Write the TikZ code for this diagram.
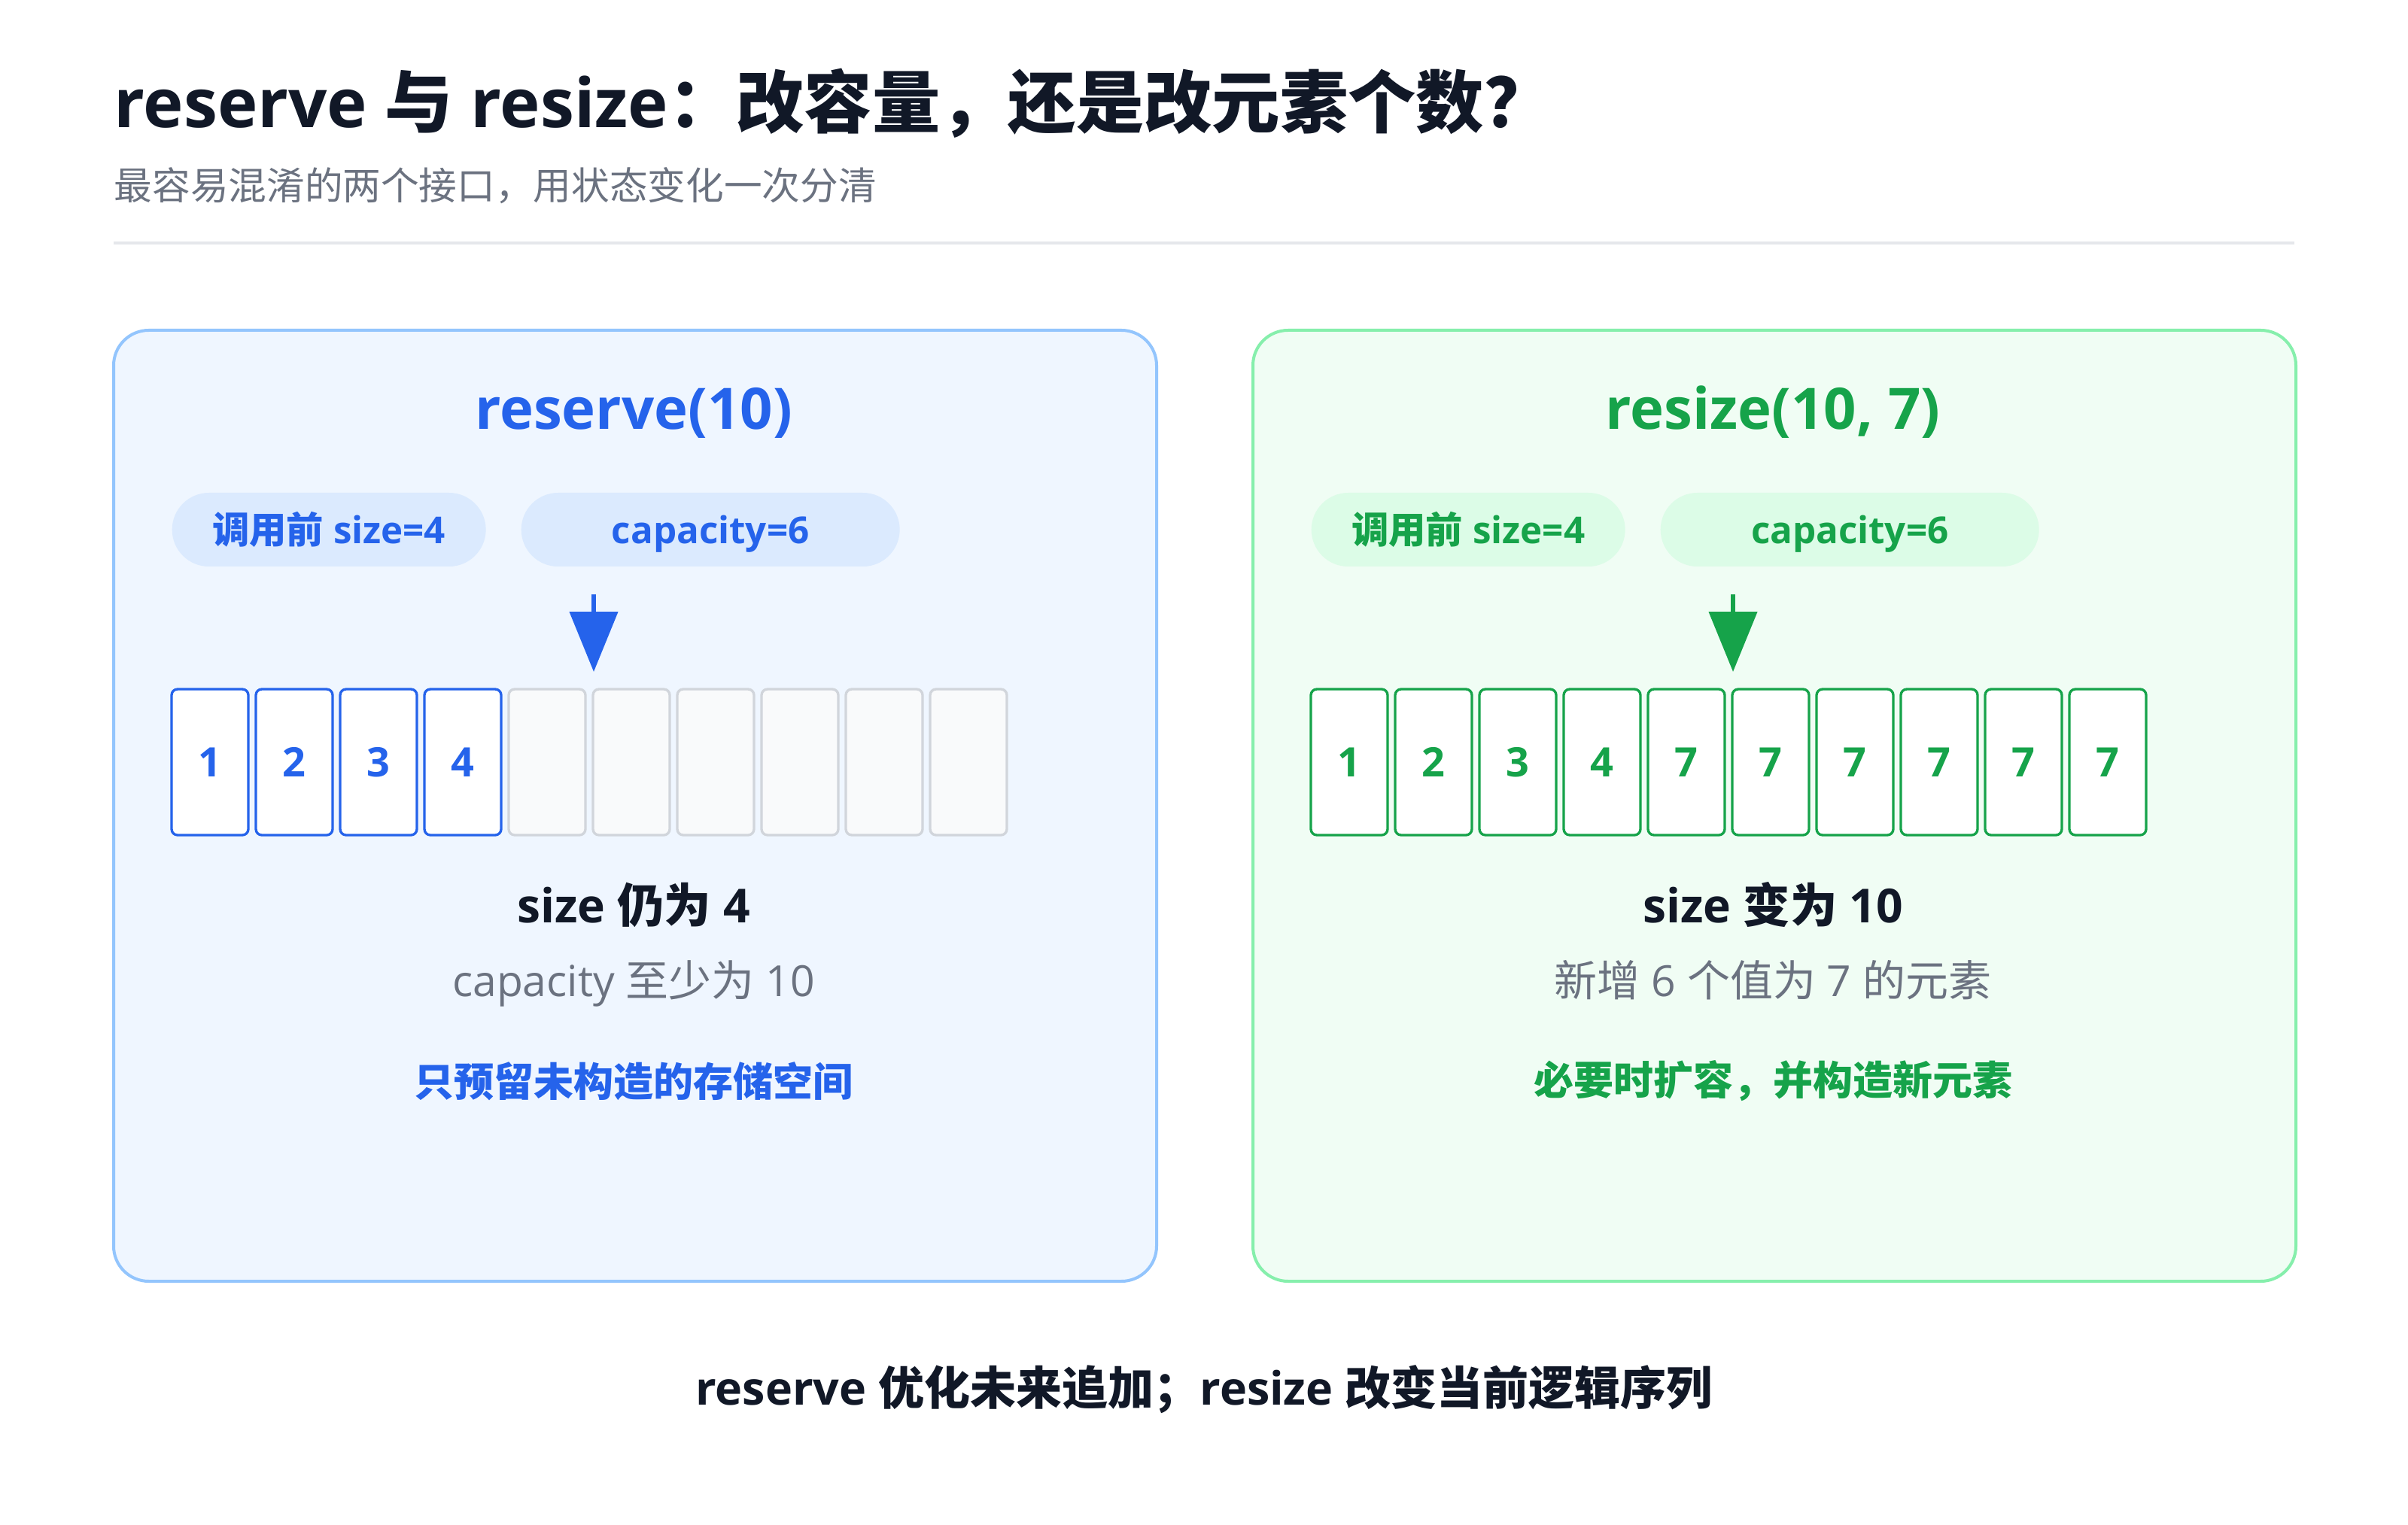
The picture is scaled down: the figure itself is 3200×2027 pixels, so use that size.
\documentclass[tikz,border=0pt]{standalone}
\usepackage{fontspec}
\setmainfont{Open Sans}
\newfontfamily\cjk{Noto Sans CJK SC}
\usetikzlibrary{arrows.meta}
\newcommand\C[1]{{\cjk #1}}
\definecolor{ink}{HTML}{111827}
\definecolor{subgray}{HTML}{6B7280}
\definecolor{sepgray}{HTML}{E5E7EB}
\definecolor{bl}{HTML}{2563EB}
\definecolor{blborder}{HTML}{93C5FD}
\definecolor{blfill}{HTML}{EFF6FF}
\definecolor{blpill}{HTML}{DBEAFE}
\definecolor{gr}{HTML}{16A34A}
\definecolor{grborder}{HTML}{86EFAC}
\definecolor{grfill}{HTML}{F0FDF4}
\definecolor{grpill}{HTML}{DCFCE7}
\definecolor{emptyborder}{HTML}{D1D5DB}
\definecolor{emptyfill}{HTML}{F9FAFB}
\tikzset{
  panel/.style={draw, line width=1.2pt, rounded corners=14pt, minimum width=415.8pt, minimum height=379.2pt, anchor=north west, inner sep=0pt},
  pill/.style={rounded corners=14.7pt, minimum height=29.4pt, inner sep=0pt, anchor=west, text height=12pt, text depth=0.9pt, font=\fontsize{14.8pt}{17pt}\selectfont\bfseries},
  cell/.style={draw, line width=1pt, rounded corners=2.4pt, minimum width=30.6pt, minimum height=58.2pt, inner sep=0pt, font=\fontsize{16.2pt}{19pt}\selectfont\bfseries},
  ptitle/.style={anchor=base, inner sep=0pt, font=\fontsize{22.8pt}{27pt}\selectfont\bfseries},
  resline/.style={anchor=base, inner sep=0pt, text=ink, font=\fontsize{18.7pt}{22pt}\selectfont\bfseries},
  noteline/.style={anchor=base, inner sep=0pt, text=subgray, font=\fontsize{17.1pt}{21pt}\selectfont},
  keyline/.style={anchor=center, inner sep=0pt, font=\fontsize{15.9pt}{19pt}\selectfont\bfseries\cjk},
  downarrow/.style={line width=2pt, -{Triangle[length=24pt,width=19pt]}},
}
\begin{document}
\begin{tikzpicture}[x=0.3pt,y=-0.3pt]
\useasboundingbox[fill=white] (0,0) rectangle (3200,2027);

% header
\node[anchor=base west, inner sep=0pt, text=ink, font=\fontsize{27.1pt}{32pt}\selectfont\bfseries] (title) at (151,170)
  {reserve \C{与} resize\C{：改容量，还是改元素个数？}};
\node[anchor=base west, inner sep=0pt, text=subgray, font=\fontsize{15.2pt}{18pt}\selectfont\cjk] (subtitle) at (151,266)
  {最容易混淆的两个接口，用状态变化一次分清};
\coordinate (s1) at (151,323);
\coordinate (s2) at (3049,323);
\draw[sepgray, line width=1.2pt] (s1) -- (s2);

% panels
\node[panel, draw=blborder, fill=blfill] (lp) at (149,437) {};
\node[panel, draw=grborder, fill=grfill] (rp) at (1663,437) {};

% panel titles
\node[ptitle, text=bl] (lt) at (842,571) {reserve(10)};
\node[ptitle, text=gr] (rt) at (2356,571) {resize(10, 7)};

% pills
\node[pill, fill=blpill, text=bl, minimum width=125.1pt] (lp1) at (228,704) {\C{调用前} size=4};
\node[pill, fill=blpill, text=bl, minimum width=150.9pt] (lp2) at (692,704) {capacity=6};
\node[pill, fill=grpill, text=gr, minimum width=125.1pt] (rp1) at (1742,704) {\C{调用前} size=4};
\node[pill, fill=grpill, text=gr, minimum width=150.9pt] (rp2) at (2206,704) {capacity=6};

% arrows
\coordinate (la1) at (789,790);
\coordinate (la2) at (789,893);
\draw[downarrow, bl] (la1) -- (la2);
\coordinate (ra1) at (2303,790);
\coordinate (ra2) at (2303,893);
\draw[downarrow, gr] (ra1) -- (ra2);

% left cells
\foreach \i/\v in {0/1,1/2,2/3,3/4} {
  \node[cell, draw=bl, fill=white, text=bl] (cl\i) at ({279+112*\i},1013) {\v};
}
\foreach \i in {4,...,9} {
  \node[cell, draw=emptyborder, fill=emptyfill] (cl\i) at ({279+112*\i},1013) {};
}
% right cells
\foreach \i/\v in {0/1,1/2,2/3,3/4,4/7,5/7,6/7,7/7,8/7,9/7} {
  \node[cell, draw=gr, fill=white, text=gr] (cr\i) at ({1793+112*\i},1013) {\v};
}

% results
\node[resline] (lr1) at (842,1226) {size \C{仍为} 4};
\node[noteline] (lr2) at (842,1324) {capacity \C{至少为} 10};
\node[keyline, text=bl] (lr3) at (842,1437) {只预留未构造的存储空间};

\node[resline] (rr1) at (2356,1226) {size \C{变为} 10};
\node[noteline] (rr2) at (2356,1324) {\C{新增} 6 \C{个值为} 7 \C{的元素}};
\node[keyline, text=gr] (rr3) at (2356,1437) {必要时扩容，并构造新元素};

% footer
\node[anchor=base, inner sep=0pt, text=ink, font=\fontsize{18.3pt}{22pt}\selectfont\bfseries] (foot) at (1600,1867)
  {reserve \C{优化未来追加；}resize \C{改变当前逻辑序列}};
\end{tikzpicture}
\end{document}
